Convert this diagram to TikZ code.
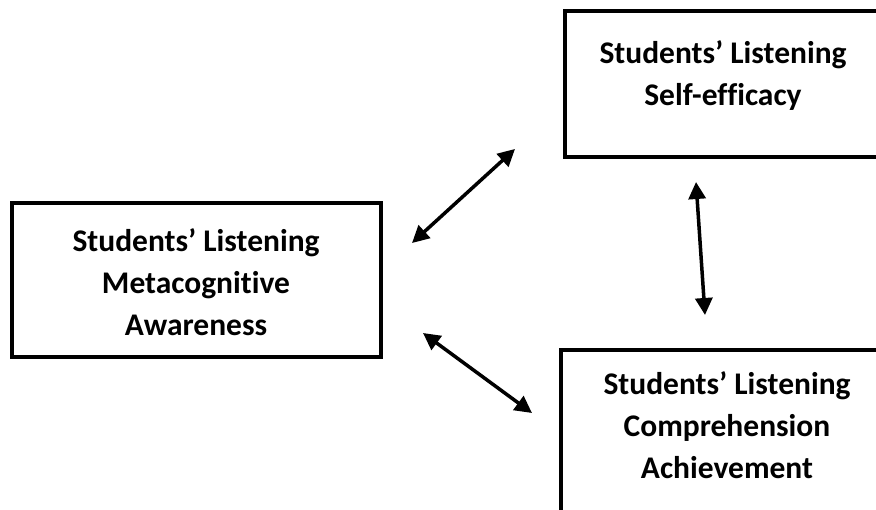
\documentclass[tikz,border=0pt]{standalone}
\usepackage{fontspec}
\setmainfont[Ligatures={NoCommon}]{Carlito}
\usetikzlibrary{arrows.meta}
\begin{document}
\begin{tikzpicture}[x=1pt,y=-1pt,
  box/.style={draw,line width=4pt,outer sep=0pt,inner sep=0pt,anchor=north west},
  lbl/.style={font=\fontsize{31.5}{42}\selectfont\bfseries,align=center,inner sep=0pt},
  biarrow/.style={line width=3.5pt,{Triangle[length=17pt,width=17pt]}-{Triangle[length=17pt,width=17pt]}}]
\useasboundingbox (0,0) rectangle (876,510);
\fill[white] (0,0) rectangle (876,510);
\clip (0,0) rectangle (876,510);
% boxes
\node[box,minimum width=369pt,minimum height=154pt] (meta) at (12,203) {};
\node[box,minimum width=320pt,minimum height=146pt] (self) at (565,11) {};
\node[box,minimum width=330pt,minimum height=180pt] (comp) at (561,350) {};
% labels
\node[lbl] (metaT) at (196,282) {Students’ Listening\\Metacognitive\\Awareness};
\node[lbl] (selfT) at (723,76) {Students’ Listening\\Self-efficacy};
\node[lbl] (compT) at (727,425) {Students’ Listening\\Comprehension\\Achievement};
% arrow end points
\coordinate (a1) at (412,243);
\coordinate (a2) at (515,149);
\coordinate (b1) at (423,333);
\coordinate (b2) at (532,413);
\coordinate (c1) at (696,182);
\coordinate (c2) at (705,315);
\draw[biarrow] (a1) -- (a2);
\draw[biarrow] (b1) -- (b2);
\draw[biarrow] (c1) -- (c2);
\end{tikzpicture}
\end{document}
